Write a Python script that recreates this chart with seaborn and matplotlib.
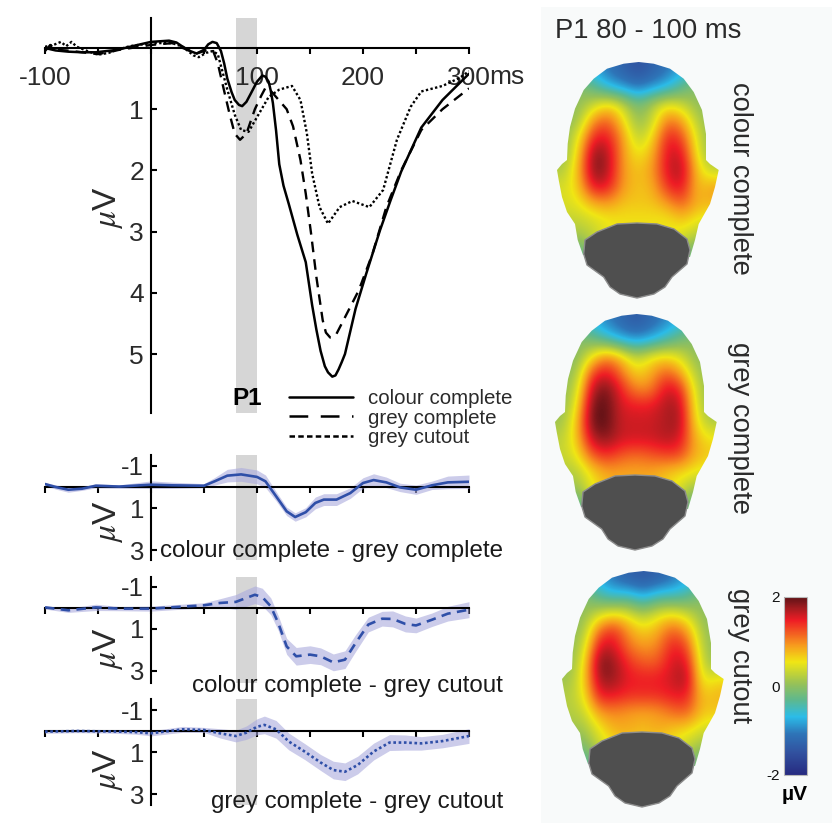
import numpy as np
import pandas as pd
import matplotlib
matplotlib.use("Agg")
import matplotlib.pyplot as plt
from matplotlib.colors import LinearSegmentedColormap, Normalize
from matplotlib.cm import ScalarMappable
from matplotlib.lines import Line2D
from matplotlib.patches import Polygon, Rectangle
import seaborn as sns

# ---------- ERP data ----------
t_solid = [-100,-90,-78,-65,-52,-32,-15,0,17,24,30,37,43,50,54,58,62,66,69,72,76,79,83,86,90,94,100,105,108,111,113,115,118,121,125,130,138,146,152,156,160,164,167,171,174,177,180,183,193,203,216,226,236,255,275,300]
v_solid = [0,0.04,0.06,0.07,0.07,0.03,-0.04,-0.1,-0.12,-0.09,-0.02,0.05,0.09,0.03,-0.06,-0.1,-0.08,0.05,0.25,0.5,0.72,0.85,0.93,0.95,0.88,0.75,0.55,0.45,0.47,0.55,0.7,0.9,1.35,1.9,2.25,2.55,3.05,3.5,4.2,4.6,4.95,5.2,5.3,5.37,5.35,5.25,5.13,5.0,4.26,3.69,2.98,2.49,2.02,1.3,0.85,0.42]
t_dash = [-100,-95,-90,-80,-70,-50,-30,0,20,30,43,52,58,63,69,74,79,84,90,98,104,108,113,118,128,134,141,146,151,156,162,165,169,172,175,183,196,209,222,236,255,275,300]
v_dash = [0.05,-0.05,0.03,0.04,0.06,0.1,0.03,-0.05,-0.08,0,0.09,0.04,0.02,0.25,0.7,1.07,1.4,1.5,1.4,1.0,0.78,0.65,0.7,0.8,1.0,1.28,1.83,2.38,3.03,3.74,4.45,4.65,4.73,4.72,4.67,4.4,3.96,3.36,2.6,2.0,1.34,1.0,0.66]
t_dot = [-100,-92,-85,-80,-75,-70,-60,-50,-40,-30,-20,0,20,30,40,45,52,58,63,72,79,85,92,102,111,121,133,141,147,152,159,167,178,190,206,219,232,245,255,275,291,300]
v_dot = [-0.02,-0.05,-0.1,-0.03,-0.1,-0.02,0.05,0.11,0.08,0.02,-0.03,-0.08,-0.08,-0.02,0.12,0.15,0.08,0.05,0.1,0.68,1.09,1.34,1.37,1.07,0.8,0.68,0.62,0.85,1.39,2.05,2.6,2.87,2.6,2.5,2.6,2.32,1.5,0.96,0.71,0.62,0.49,0.38]

t_d1 = [-100,-90,-78,-65,-52,-30,0,20,50,60,72,85,100,108,118,128,136,146,155,163,175,188,200,210,222,235,250,265,280,300]
v_d1 = [-0.14,0,0.13,0.08,-0.06,-0.02,-0.11,-0.08,-0.06,-0.27,-0.54,-0.6,-0.48,-0.27,0.44,1.16,1.43,1.2,0.76,0.6,0.6,0.29,-0.19,-0.33,-0.22,0.02,0.13,-0.08,-0.22,-0.25]
e_d1 = [0.08,0.1,0.12,0.08,0.1,0.08,0.18,0.15,0.1,0.18,0.3,0.33,0.33,0.3,0.22,0.2,0.2,0.22,0.28,0.28,0.28,0.25,0.25,0.3,0.25,0.2,0.22,0.2,0.3,0.32]
t_d2 = [-100,-78,-52,-30,0,50,65,80,90,98,105,113,120,128,137,150,160,172,183,193,205,218,228,240,250,265,280,300]
v_d2 = [-0.03,0.11,-0.03,0.03,0.03,-0.13,-0.24,-0.29,-0.48,-0.63,-0.52,-0.08,0.71,1.83,2.3,2.22,2.3,2.59,2.46,1.67,0.79,0.51,0.52,0.76,0.83,0.56,0.27,0.08]
e_d2 = [0.08,0.1,0.15,0.1,0.12,0.12,0.2,0.35,0.4,0.42,0.42,0.4,0.35,0.38,0.42,0.42,0.4,0.4,0.42,0.4,0.35,0.35,0.38,0.38,0.35,0.32,0.35,0.38]
t_d3 = [-100,-70,-40,-15,0,30,50,65,80,90,100,107,118,130,145,160,172,183,195,210,225,240,255,275,300]
v_d3 = [0.03,0,0.02,0.05,0.11,-0.08,-0.05,0.11,0.24,0.08,-0.2,-0.29,-0.08,0.5,0.98,1.5,1.86,1.94,1.62,0.98,0.55,0.55,0.59,0.48,0.24]
e_d3 = [0.08,0.08,0.08,0.1,0.12,0.14,0.12,0.22,0.28,0.32,0.38,0.42,0.42,0.4,0.38,0.38,0.42,0.42,0.42,0.4,0.38,0.36,0.32,0.32,0.35]

x_ticks = [-100,-50,0,50,100,150,200,250,300]
x_ticklabels = ["-100","","","","100","","200","","300"]
conditions = ["colour complete","grey complete","grey cutout"]
diff_names = ["colour complete - grey complete","colour complete - grey cutout","grey complete - grey cutout"]

# ---------- topography data: µV on a coarse scalp grid, rows top to bottom ----------
head_colour = [
 [-.5,-.5,-.8,-1.1,-1.3,-1.5,-1.3,-1.1,-.8,-.5,-.5],
 [0,0,-.3,-.7,-.9,-1.1,-.9,-.7,-.3,0,0],
 [0,0,.3,.6,.3,-.2,.2,.5,.3,0,0],
 [0,.1,1.0,1.2,.6,0,.3,1.1,.9,.2,0],
 [0,.5,1.5,1.5,.9,.2,.6,1.5,1.3,.4,0],
 [0,.7,1.9,1.7,.9,.5,.8,1.6,1.6,.5,0],
 [.2,.8,1.95,1.7,.9,.7,.9,1.6,1.75,.7,.3],
 [.4,.7,1.6,1.5,.9,.7,.8,1.4,1.6,.7,.9],
 [.4,.5,.8,.9,.7,.7,.7,.9,1.2,.8,.8],
 [.3,.3,.4,.5,.55,.55,.55,.5,.7,.5,.4],
 [.1,.1,.3,.55,.6,.6,.6,.55,.4,.2,.1],
 [-.4,-.4,0,.3,.4,.4,.4,.3,0,-.4,-.4]]
head_grey = [
 [-.4,-.4,-.7,-1.0,-1.2,-1.4,-1.2,-1.0,-.7,-.4,-.4],
 [0,0,-.2,-.5,-.8,-.95,-.8,-.5,-.2,0,0],
 [0,-.1,.5,1.0,.7,.2,.5,.6,.4,0,0],
 [0,.1,1.3,1.55,1.1,.6,.8,1.2,.9,.2,0],
 [0,.3,1.7,1.95,1.45,1.0,1.0,1.6,1.5,.4,0],
 [0,.5,1.95,2.0,1.55,1.5,1.5,1.7,1.75,.5,0],
 [.1,.7,2.0,2.0,1.6,1.6,1.6,1.7,1.8,.6,.2],
 [.25,.7,1.7,1.85,1.6,1.6,1.6,1.7,1.6,.8,.55],
 [.3,.5,1.2,1.4,1.2,1.1,1.2,1.3,1.3,.8,.7],
 [.2,.2,.6,.85,.85,.85,.85,.7,.6,.5,.4],
 [.05,.1,.5,.8,.8,.8,.8,.7,.4,.1,0],
 [-.5,-.5,.1,.4,.5,.5,.5,.4,.1,-.5,-.5]]
head_cutout = [
 [-.5,-.5,-.8,-1.1,-1.3,-1.4,-1.3,-1.1,-.8,-.5,-.5],
 [0,0,-.4,-.6,-.5,-.8,-.5,-.5,-.4,0,0],
 [0,0,.3,.5,.4,.1,.4,.5,.3,0,0],
 [0,.1,1.1,1.4,.9,.6,.8,1.2,.9,.1,0],
 [0,.3,1.6,1.6,1.1,.9,1.0,1.5,1.3,.2,0],
 [0,.5,1.95,1.8,1.4,1.2,1.2,1.6,1.6,.3,0],
 [.1,.6,1.8,1.8,1.5,1.5,1.5,1.6,1.8,.4,.6],
 [.2,.5,1.5,1.5,1.4,1.4,1.4,1.5,1.5,.7,.8],
 [.2,.3,.9,1.0,.9,.85,.9,1.1,1.2,.7,.7],
 [.1,.1,.5,.8,.85,.75,.85,.7,.6,.4,.3],
 [-.1,-.1,.3,.6,.6,.6,.6,.5,.3,.1,0],
 [-.5,-.5,0,.3,.4,.4,.4,.3,0,-.4,-.4]]
head_outline = [(81.7,0),(96.7,1.7),(113,6.7),(126.7,16.7),(136.7,30),(145,48),(149,72),(149,98),(153,102),(161.7,108),(158,125),(153,142),(141.7,162),(138,178),(133,195),
                (26,193),(20.7,178),(18,162),(10,150),(5,135),(1.7,118),(0,108),(5,102),(10,98),(10.7,81.7),(13,65),(18,46.7),(26.7,28),(36.7,16.7),(50,6.7),(66.7,1.7)]
neck_outline = [(80,161),(100,162),(117,167),(130,177),(133,188),(130,202),(115,215),(108,225),(97,232),(80,236),(63,232),(53,225),(46.7,215),(30,203),(26.7,192),(28,178),(40,170),(60,162)]

cmap_values = [-2,-1.5,-1.07,-.69,-.32,.05,.54,.92,1.48,1.75,2]
cmap_colours = ["#262a80","#31519f","#2e75b8","#2bbce8","#5db88f","#96c158","#f0e614","#f79a1e","#ee1c25","#a31c20","#5e1216"]

# ---------- style ----------
W, H = 832, 823
sns.set_theme(style="white", rc={"axes.facecolor":"none","figure.facecolor":"white"})
plt.rcParams["font.family"] = ["Liberation Sans","DejaVu Sans"]
plt.rcParams["mathtext.fontset"] = "stix"
TXT = "#2a2a2a"
fig = plt.figure(figsize=(W/100, H/100), dpi=100)
cmap = LinearSegmentedColormap.from_list("erp", [((v+2)/4, c) for v, c in zip(cmap_values, cmap_colours)], N=512)
norm = Normalize(-2, 2)

def px_axes(left, top, right, bottom, **kw):
    return fig.add_axes([left/W, 1-bottom/H, (right-left)/W, (bottom-top)/H], **kw)

def ftext(x, y, s, **kw):
    kw.setdefault("color", TXT)
    return fig.text(x/W, 1-y/H, s, **kw)

# right-hand pale panel
fig.add_artist(Rectangle((541/W, 0), 291/W, 1-7/H, transform=fig.transFigure, fc="#f8fafa", ec="none", zorder=-5))

X0, X1 = 45, 469

def erp_axes(top, bottom, zero, scale, yticks, ticklabels, fs):
    ax = px_axes(X0, top, X1, bottom)
    ax.set_xlim(-100, 300)
    ax.set_ylim((bottom-zero)/scale, (top-zero)/scale)
    ax.axvspan(80, 100, color="#d6d6d6", lw=0, zorder=0)
    for s in ("top","right"):
        ax.spines[s].set_visible(False)
    ax.spines["left"].set_position(("data",0))
    ax.spines["bottom"].set_position(("data",0))
    for s in ("left","bottom"):
        ax.spines[s].set_linewidth(1.5); ax.spines[s].set_color("black"); ax.spines[s].set_zorder(2)
    ax.set_yticks(yticks); ax.set_yticklabels(ticklabels, fontsize=fs, color=TXT)
    ax.set_xticks(x_ticks)
    ax.tick_params(axis="y", direction="in", length=4, width=1.5, color="black", pad=5, left=True)
    ax.tick_params(axis="x", direction="out", length=4, width=1.5, color="black", bottom=True)
    ax.set_xlabel(""); ax.set_ylabel("")
    return ax

def line(ax, t, v, **kw):
    sns.lineplot(data=pd.DataFrame({"t":t,"v":v}), x="t", y="v", ax=ax, estimator=None, sort=False, errorbar=None, legend=False, **kw)
    ax.set_xlabel(""); ax.set_ylabel("")

# main panel
ax = erp_axes(18, 413, 48, 61.2, [1,2,3,4,5], ["1","2","3","4","5"], 19)
ax.set_xticklabels(x_ticklabels, fontsize=19, color=TXT)
ax.tick_params(axis="x", pad=9)
line(ax, t_solid, v_solid, color="black", linewidth=1.8, zorder=4)
line(ax, t_dash, v_dash, color="black", linewidth=1.7, linestyle=(0,(4.5,3)), zorder=4)
line(ax, t_dot, v_dot, color="black", linewidth=1.7, linestyle=(0,(1,1)), zorder=4)
ftext(247, 398, "P1", fontsize=17.5, fontweight="bold", color="black", ha="center", va="center")
ftext(489, 77, "ms", fontsize=19, va="center", ha="left")
ftext(108, 208, r"$\mu$V", fontsize=24, rotation=90, ha="center", va="center")
handles = [Line2D([],[],color="black",lw=1.8),
           Line2D([],[],color="black",lw=1.8,linestyle=(0,(7.5,5))),
           Line2D([],[],color="black",lw=1.8,linestyle=(0,(2.2,1.3)))]
fig.legend(handles, conditions, loc="center left", bbox_to_anchor=(279/W, 1-418/H), frameon=False, fontsize=14.8,
           handlelength=3.1, handletextpad=0.75, labelspacing=0.02, borderpad=0, labelcolor=TXT)

# difference panels
diffs = [(455,560,487,t_d1,v_d1,e_d1,"-",522,162),
         (577,683,608,t_d2,v_d2,e_d2,(0,(3.6,2.4)),649,194),
         (699,805,731,t_d3,v_d3,e_d3,(0,(1,1)),770,213)]
for (top,bot,zero,t,v,e,ls,ylab,_), name, ty in zip(diffs, diff_names, (551,686,802)):
    a = erp_axes(top, bot, zero, 21, [-1,1,3], ["-1","1","3"], 18.5)
    a.set_xticklabels([])
    lo = np.array(v)-np.array(e); hi = np.array(v)+np.array(e)
    a.fill_between(t, lo, hi, color="#aaaadd", alpha=0.6, lw=0, zorder=1.5)
    line(a, t, v, color="#2f4fa8", linewidth=1.9, linestyle=ls, zorder=4)
    ftext(503, ty, name, fontsize=17.4, ha="right", va="center", color="#1a1a1a", zorder=6)
    ftext(108, ylab, r"$\mu$V", fontsize=24, rotation=90, ha="center", va="center")

# topographies
ftext(555, 31, "P1 80 - 100 ms", fontsize=19.7, ha="left", va="center")
heads = [(head_colour,557,62,conditions[0],740,178),
         (head_grey,555,314,conditions[1],740,428),
         (head_cutout,562,571,conditions[2],740,656)]
for grid, left, top, name, tx, ty in heads:
    h = px_axes(left, top, left+163, top+238)
    h.set_xlim(0,163); h.set_ylim(238,0); h.axis("off")
    im = h.imshow(np.array(grid), cmap=cmap, norm=norm, extent=(0,162,200,0), aspect="auto",
                  interpolation="bicubic", interpolation_stage="data")
    clip = Polygon(head_outline, closed=True, transform=h.transData, fc="none", ec="none")
    h.add_patch(clip); im.set_clip_path(clip)
    h.add_patch(Polygon(neck_outline, closed=True, fc="#4f4f4f", ec="#8c8c8c", lw=1.0, joinstyle="round", zorder=5))
    ftext(tx, ty, name, fontsize=19.7, rotation=270, ha="center", va="center")

# colour bar
cax = px_axes(784, 597, 807, 775)
cb = fig.colorbar(ScalarMappable(norm=norm, cmap=cmap), cax=cax, orientation="vertical")
cb.set_ticks([-2,0,2]); cb.set_ticklabels(["-2","0","2"])
cax.yaxis.set_ticks_position("left")
cax.tick_params(length=0, pad=3, labelsize=11, labelcolor="#111111")
cb.outline.set_edgecolor("#b8b8b8"); cb.outline.set_linewidth(0.8)
ftext(795, 795, "µV", fontsize=15, fontweight="bold", color="black", ha="center", va="center")

fig.savefig("out.png", dpi=100)
